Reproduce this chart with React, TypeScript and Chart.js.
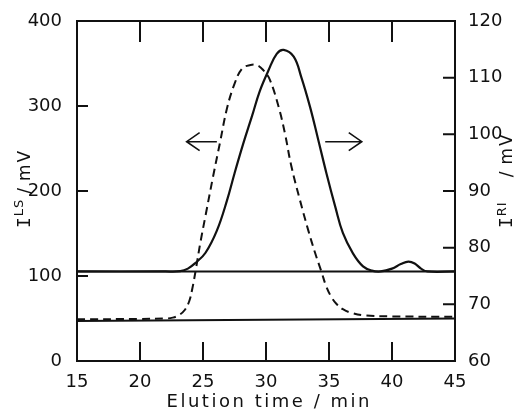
import React, { useEffect, useRef } from 'react';
import { Chart, registerables } from 'chart.js';

Chart.register(...registerables);

// ---- data ----
const xTicks = [15, 20, 25, 30, 35, 40, 45];
const lsTicks = [0, 100, 200, 300, 400];
const riTicks = [60, 70, 80, 90, 100, 110, 120];

// light scattering (dashed, left axis, mV)
const lsTime = [15, 20, 22, 22.6, 23.1, 23.55, 23.9, 24.15, 24.4, 24.8, 25.2, 25.8, 26.35, 26.9, 27.5, 28.1, 28.7, 29.3, 29.8, 30.3, 31.0, 31.5, 32.0, 32.7, 33.35, 33.9, 34.4, 34.8, 35.2, 35.6, 36.1, 36.8, 37.9, 40, 45];
const lsSignal = [49, 49.5, 50, 51, 54, 60, 70, 85, 105, 140, 171, 217, 257, 297, 326, 344, 348, 348, 342, 331, 299, 268, 230, 189, 154, 127, 105, 87, 75, 67, 61, 56.5, 53.5, 52.5, 52];

// refractive index (solid, right axis, mV)
const riTime = [15, 22, 23.2, 23.8, 24.4, 25.2, 26.1, 26.9, 27.5, 28.2, 28.9, 29.5, 30.2, 30.85, 31.4, 32.2, 32.8, 33.5, 34.15, 34.8, 35.5, 36.1, 36.9, 37.7, 38.4, 39.1, 40.0, 40.7, 41.3, 41.8, 42.3, 42.8, 45];
const riSignal = [75.8, 75.8, 75.85, 76.3, 77.3, 79.1, 83.0, 88.3, 93.1, 98.4, 103.3, 107.6, 111.3, 114.2, 114.9, 113.7, 110.1, 104.8, 99.0, 93.1, 87.2, 82.6, 79.0, 76.7, 75.95, 75.8, 76.3, 77.1, 77.55, 77.2, 76.3, 75.8, 75.8];

// baselines
const riBaseTime = [15, 45];
const riBase = [75.8, 75.8];
const lsBaseTime = [15, 45];
const lsBase = [47, 50];

// arrows: [from, to, level]
const lsArrow = [26.1, 23.7, 258];
const riArrow = [34.7, 37.6, 98.7];

const pts = (xs: number[], ys: number[]) => xs.map((x, i) => ({ x, y: ys[i] }));

const INK = '#111';
const TICK_FONT = { family: 'DejaVu Sans', size: 18 };

const decorPlugin = {
  id: 'decor',
  afterDatasetsDraw(chart: any) {
    const { ctx, chartArea: a, scales } = chart;
    const x = scales.x, yL = scales.yL, yR = scales.yR;
    ctx.save();
    ctx.strokeStyle = INK;
    ctx.lineWidth = 2;
    ctx.lineCap = 'butt';
    // frame
    ctx.strokeRect(a.left, a.top, a.right - a.left, a.bottom - a.top);
    // inward ticks
    ctx.beginPath();
    xTicks.slice(1, -1).forEach((v) => {
      const px = x.getPixelForValue(v);
      ctx.moveTo(px, a.bottom); ctx.lineTo(px, a.bottom - 19);
      ctx.moveTo(px, a.top); ctx.lineTo(px, a.top + 21);
    });
    lsTicks.slice(1, -1).forEach((v) => {
      const py = yL.getPixelForValue(v);
      ctx.moveTo(a.left, py); ctx.lineTo(a.left + 11, py);
    });
    riTicks.slice(1, -1).forEach((v) => {
      const py = yR.getPixelForValue(v);
      ctx.moveTo(a.right, py); ctx.lineTo(a.right - 12, py);
    });
    ctx.stroke();

    // arrows
    const arrow = (spec: number[], scale: any) => {
      const x0 = x.getPixelForValue(spec[0]);
      const x1 = x.getPixelForValue(spec[1]);
      const y = scale.getPixelForValue(spec[2]);
      const dir = Math.sign(x1 - x0);
      ctx.lineWidth = 1.6;
      ctx.beginPath();
      ctx.moveTo(x0, y); ctx.lineTo(x1, y);
      ctx.moveTo(x1 - dir * 13, y - 9); ctx.lineTo(x1, y); ctx.lineTo(x1 - dir * 13, y + 9);
      ctx.stroke();
    };
    arrow(lsArrow, yL);
    arrow(riArrow, yR);

    ctx.fillStyle = INK;
    // x title
    ctx.font = '18px "DejaVu Sans"';
    const xt = 'Elution time / min';
    const w0 = ctx.measureText(xt).width;
    const ls = Math.max(0, (203 - w0) / (xt.length - 1));
    (ctx as any).letterSpacing = ls + 'px';
    ctx.textBaseline = 'alphabetic';
    ctx.textAlign = 'left';
    const xc = (a.left + a.right) / 2 + 2;
    ctx.fillText(xt, xc - 203 / 2, a.bottom + 46);
    (ctx as any).letterSpacing = '0px';

    // y titles (rotated, reading upward)
    const drawTitle = (bx: number, by: number, parts: { t: string; f: string; s: number; g: number; sp?: number }[]) => {
      ctx.save();
      ctx.translate(bx, by);
      ctx.rotate(-Math.PI / 2);
      ctx.textAlign = 'left';
      ctx.textBaseline = 'alphabetic';
      let pos = 0;
      parts.forEach((p) => {
        ctx.font = p.f;
        (ctx as any).letterSpacing = (p.sp || 0) + 'px';
        ctx.fillText(p.t, pos, p.s);
        pos += ctx.measureText(p.t).width + p.g;
      });
      (ctx as any).letterSpacing = '0px';
      ctx.restore();
    };
    drawTitle(a.left - 47, a.bottom - 133, [
      { t: 'I', f: '18px "DejaVu Sans Mono"', s: 0, g: 1 },
      { t: 'LS', f: '13px "DejaVu Sans"', s: -7, g: 5, sp: 1 },
      { t: '/', f: '17px "DejaVu Sans"', s: 0, g: 7 },
      { t: 'mV', f: '17px "DejaVu Sans"', s: 0, g: 0, sp: 2 },
    ]);
    drawTitle(a.right + 57, a.bottom - 133, [
      { t: 'I', f: '18px "DejaVu Sans Mono"', s: 0, g: 1 },
      { t: 'RI', f: '13px "DejaVu Sans"', s: -6, g: 24, sp: 1 },
      { t: '/', f: '17px "DejaVu Sans"', s: 0, g: 7 },
      { t: 'mV', f: '17px "DejaVu Sans"', s: 0, g: 0, sp: 2 },
    ]);
    ctx.restore();
  },
};

export default function App() {
  const ref = useRef<HTMLCanvasElement>(null);
  useEffect(() => {
    if (!ref.current) return;
    const chart = new Chart(ref.current, {
      type: 'line',
      data: {
        datasets: [
          { data: pts(riBaseTime, riBase), yAxisID: 'yR', borderColor: INK, borderWidth: 2, pointRadius: 0, tension: 0 },
          { data: pts(lsBaseTime, lsBase), yAxisID: 'yL', borderColor: INK, borderWidth: 2, pointRadius: 0, tension: 0 },
          { data: pts(lsTime, lsSignal), yAxisID: 'yL', borderColor: INK, borderWidth: 2, borderDash: [8, 5], pointRadius: 0, tension: 0.4 },
          { data: pts(riTime, riSignal), yAxisID: 'yR', borderColor: INK, borderWidth: 2.2, pointRadius: 0, tension: 0.4 },
        ],
      },
      options: {
        animation: false,
        responsive: false,
        events: [],
        layout: { padding: { top: 21, left: 0, right: 0, bottom: 0 } },
        plugins: { legend: { display: false }, tooltip: { enabled: false }, title: { display: false } },
        scales: {
          x: {
            type: 'linear', position: 'bottom', min: 15, max: 45,
            afterBuildTicks: (s: any) => { s.ticks = xTicks.map((v) => ({ value: v })); },
            afterFit: (s: any) => { s.height = 50; },
            grid: { display: false }, border: { display: false },
            ticks: { color: INK, font: TICK_FONT, padding: 3, maxRotation: 0, autoSkip: false },
          },
          yL: {
            type: 'linear', position: 'left', min: 0, max: 400,
            afterBuildTicks: (s: any) => { s.ticks = lsTicks.map((v) => ({ value: v })); },
            afterFit: (s: any) => { s.width = 77; },
            grid: { display: false }, border: { display: false },
            ticks: { color: INK, font: TICK_FONT, padding: 7 },
          },
          yR: {
            type: 'linear', position: 'right', min: 60, max: 120,
            afterBuildTicks: (s: any) => { s.ticks = riTicks.map((v) => ({ value: v })); },
            afterFit: (s: any) => { s.width = 60; },
            grid: { display: false }, border: { display: false },
            ticks: { color: INK, font: TICK_FONT, padding: 5 },
          },
        },
      },
      plugins: [decorPlugin],
    } as any);
    return () => chart.destroy();
  }, []);
  return (
    <canvas
      ref={ref}
      width={515}
      height={411}
      style={{ position: 'fixed', left: 0, top: 0, width: 515, height: 411, background: '#fff' }}
    />
  );
}
